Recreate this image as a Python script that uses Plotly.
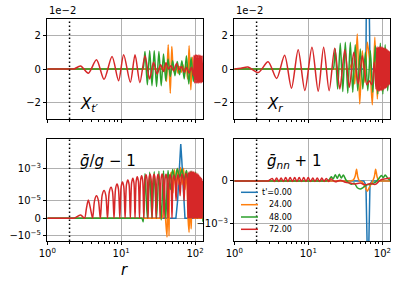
import math
import plotly.graph_objects as go

# ---------------- data ----------------
series_labels = ["t'=0.00", "24.00", "48.00", "72.00"]
series_colors = ["#1f77b4", "#ff7f0e", "#2ca02c", "#d62728"]
r_marker = 2.0

# X_t' (values in units of 1e-2)
xt_r_blue = [1.0, 128.0]
xt_v_blue = [0.0, 0.0]
xt_r_orange = [1, 35.0, 36.9, 39.3, 41.1, 43.3, 46.2, 48.4, 50.8, 53.2, 55.8, 58.9, 61.9, 65.0, 68.4, 72.1,
               75.5, 79.3, 83.1, 87.6, 91.8, 96.2, 101.6, 106, 116.5, 128]
xt_v_orange = [0, 0, 0, 0.35, -0.75, 1.45, -1.45, 1.35, 0.0, -0.2, 0.2, -0.25, 0.15, -0.2, 0.25, -0.3,
               0.3, -0.6, 1.4, -1.25, 0.7, -0.5, 0.3, -0.3, 0.2, -0.2]
xt_r_green = [1, 18.5, 19.7, 21.0, 22.6, 24.3, 26.1, 28.0, 30.1, 32.4, 34.8, 37.4, 40.1, 43.0, 46.2, 49.7,
              53.4, 57.4, 61.7, 66.3, 71.2, 76.4, 82.2, 88.3, 94.8, 102, 109, 117, 128]
xt_v_green = [0, 0, 0, 1.05, -0.95, 1.1, -1.0, 1.1, -1.05, 1.05, -1.0, 0.9, -0.7, 0.6, -0.45, 0.5,
              -0.4, 0.45, -0.35, 0.5, -0.6, 0.8, -0.9, 0.7, -0.75, 0.55, -0.6, 0.4, -0.4]
xt_r_red = [1, 2.1, 2.30, 2.82, 3.59, 4.63, 5.86, 7.52, 9.21, 10.8, 13.3, 15.4, 17.9, 21.0, 24.2, 27.4,
            30.6, 34.1, 37.5, 40.4, 43.7, 47.2, 51.1, 56.2, 60.7, 65.6, 71.0, 76.7, 82.9, 89.5, 95.3,
            97, 99, 101, 103.5, 105.5, 108, 110, 112.5, 115, 117, 119.5, 122, 124.5, 127]
xt_v_red = [0, 0, 0, 0.18, -0.25, 0.55, -0.62, 0.75, -0.7, 0.86, -0.8, 0.86, -0.82, 0.8, -0.6, 0.4,
            -0.3, 0.25, -0.15, 0.37, 0.0, 0.2, -0.1, 0.33, -0.05, 0.15, -0.2, 0.1, -0.25, 0.1, -0.4,
            0.82, -0.84, 0.86, -0.85, 0.86, -0.84, 0.85, -0.85, 0.84, -0.84, 0.82, -0.82, 0.8, -0.8]

# X_r (values in units of 1e-2)
xr_r_blue = [1, 58, 60, 62, 64, 66, 68, 70, 128]
xr_v_blue = [0, 0, 0.3, 5, 20, 5, 0.3, 0, 0]
xr_r_orange = [1, 33.5, 35.8, 39.3, 42.4, 45.8, 49.5, 53.6, 58.0, 62.7, 67.7, 73.2, 79.1, 85.5, 92.4, 100,
               107.7, 116.4, 128]
xr_v_orange = [0, 0, 0, 0.4, -0.9, 2.1, -2.1, 1.1, -0.8, 1.6, 0.3, -2.15, 1.9, -1.8, 1.2, -0.8,
               0.5, -0.3, 0.1]
xr_r_green = [1, 20.5, 21.7, 23.1, 24.9, 27.0, 29.2, 31.6, 34.1, 36.9, 39.8, 43.0, 46.5, 50.3, 54.4, 58.9,
              63.6, 68.8, 74.2, 80.3, 86.7, 93.8, 101.6, 109, 118, 128]
xr_v_green = [0, 0, 0, 1.2, -1.2, 1.55, -1.35, 1.6, -1.45, 1.6, -1.4, 1.45, -1.3, 1.2, -1.2, 1.0,
              -1.3, 1.1, -1.4, 1.4, -1.5, 1.55, -1.5, 1.45, -1.3, 1.0]
xr_r_red = [1, 1.23, 1.53, 2.11, 2.86, 3.73, 4.78, 5.92, 7.29, 8.98, 11.2, 13.6, 16.1, 19.1, 22.7,
            26.6, 31.1, 35.8, 41.1, 47.2, 53.6, 61.7, 66.7, 72.1, 77.9,
            82, 84, 85.5, 87, 89, 90.5, 92, 94, 96, 97.5, 99, 101, 103, 105, 107, 109, 111, 113,
            115, 117, 119.5, 122, 124.5, 127]
xr_v_red = [0, 0.05, 0.12, -0.21, 0.43, -0.57, 0.82, -1.15, 1.16, -1.29, 1.31, -1.33, 1.31, -1.3, 1.25,
            -1.2, 1.15, -1.1, 1.0, -0.9, 0.8, -0.95, -0.7, -0.95, 0.4,
            -1.2, 1.3, -1.3, 1.33, -1.32, 1.34, -1.32, 1.33, -1.3, 1.32, -1.28, 1.3, -1.25, 1.28,
            -1.2, 1.25, -1.15, 1.2, -1.1, 1.15, -1.0, 1.1, -0.95, 1.05]

# g_bar/g - 1
gl_r_blue = [1, 55, 58, 60, 62, 64, 66, 68, 70, 73, 128]
gl_v_blue = [0, 0, 1e-5, 3e-4, 4e-3, 3.6e-2, 4e-3, 3e-4, 1e-5, 0, 0]
gl_r_orange = [1, 34.0, 35.8, 38.1, 39.8, 41.7, 43.0, 44.4, 45.8, 48.0, 50.3, 52.7, 55.3, 58.0, 60.7, 63.6,
               66.7, 69.9, 73.2, 76.7, 80.3, 82.9, 85.5, 88.3, 90.9, 96.8, 100, 128]
gl_v_orange = [0, 0, 0, 2e-5, 0, -1.2e-5, 1e-4, -1e-5, 3e-4, 6e-4, 3e-5, 9e-4, 5e-5, 1.1e-3, 1e-4, 1.2e-3,
               1e-4, 1.1e-3, 5e-5, 8e-4, 0, -8e-6, 2e-5, -6e-6, 5e-6, 0, 0, 0]
gl_r_green = [1, 18.0, 19.1, 19.9, 21.0, 22.6, 24.3, 26.1, 28.0, 30.1, 32.4, 34.8, 37.4, 40.1, 43.0, 46.2,
              49.7, 53.4, 57.4, 61.7, 66.3, 71.2, 76.4, 82.2, 88.3, 94.8, 102, 109, 117, 128]
gl_v_green = [0, 0, 0, -2e-6, 5e-4, 0, 6e-4, 0, 6.5e-4, 0, 7e-4, -1e-6, 7.5e-4, 0, 8e-4, 5e-5,
              9e-4, 2e-4, 1e-3, 3e-4, 9e-4, 2e-4, 8e-4, 1e-4, 7e-4, 5e-5, 6e-4, 0, 2e-4, -2e-6]
gl_r_red = [1, 2.1, 2.30, 2.82, 3.19,
            3.38, 3.59, 3.84, 4.10, 4.36, 4.63, 4.92, 5.22, 5.53, 5.86, 6.19, 6.53, 6.90, 7.29, 7.64,
            8.00, 8.39, 8.79, 9.18, 9.59, 9.99, 10.4, 10.84, 11.3, 11.79, 12.3, 12.79, 13.3, 13.84,
            14.4, 14.89, 15.4, 15.94, 16.5, 17.09, 17.7, 18.29, 18.9, 19.54, 20.2, 20.94, 21.7, 22.39,
            23.1, 23.84, 24.6, 25.39, 26.2, 26.99, 27.8, 28.73, 29.7, 30.63, 31.6, 32.59, 33.6, 34.68,
            35.8, 36.93, 38.1, 39.23, 40.4, 41.68, 43.0, 44.38, 45.8, 47.23, 48.7, 50.27, 51.9, 53.57,
            55.3, 57.07, 58.9, 60.77, 62.7, 64.67, 66.7, 68.82, 71.0, 73.22, 75.5, 77.86, 80.3,
            81.5, 83, 84.5, 86, 87.5, 89, 90.5, 92, 93.5, 95, 96.5, 98, 100, 101.5, 103, 105,
            107, 109, 111, 113, 115, 117, 119, 121, 123, 125, 127.5]
gl_v_red = [0, 0, 0, 1.9e-6, 0,
            5.5e-6, 1.1e-5, 5.5e-6, 0, 1.0e-5, 2.0e-5, 1.0e-5, 0, 2.2e-5, 4.3e-5, 2.2e-5, 0, 3.5e-5, 7e-5, 3.5e-5,
            0, 5.5e-5, 1.1e-4, 5.5e-5, 0, 7.5e-5, 1.5e-4, 7.5e-5, 0, 1.0e-4, 2.0e-4, 1.0e-4, 0, 1.3e-4,
            2.6e-4, 1.3e-4, 0, 1.6e-4, 3.2e-4, 1.6e-4, 0, 1.85e-4, 3.7e-4, 1.85e-4, 0, 2.1e-4, 4.2e-4, 2.1e-4,
            0, 2.25e-4, 4.5e-4, 2.25e-4, 0, 2.3e-4, 4.6e-4, 2.3e-4, 0, 2.25e-4, 4.5e-4, 2.25e-4, 0, 2.4e-4,
            4.8e-4, 2.4e-4, 0, 2.25e-4, 4.5e-4, 2.25e-4, 0, 2.1e-4, 4.2e-4, 2.1e-4, 0, 2.0e-4, 4.0e-4, 2.0e-4,
            1e-5, 2.1e-4, 4.2e-4, 2.1e-4, 2e-5, 2.25e-4, 4.5e-4, 2.25e-4, 1e-5, 2.5e-4, 5e-4, 2.5e-4, 0,
            6e-4, 0, 6.5e-4, 0, 7e-4, 0, 7e-4, 0, 7e-4, 0, 6.5e-4, 0, 6e-4, 0, 5.5e-4, 0,
            5e-4, 0, 4.5e-4, 0, 3.5e-4, 0, 3e-4, 0, 2.5e-4, 0, 1.8e-4]

# g_bar_nn + 1
gn_r_blue = [1, 56, 60, 62, 64, 66, 68, 72, 128]
gn_v_blue = [0, 0, -1e-4, -2e-3, -5e-2, -2e-3, -1e-4, 0, 0]
gn_r_orange = [1, 35.0, 36.9, 40.4, 43.0, 44.8, 46.5, 48.7, 53.6, 58.9, 62.7, 66.7, 73.2, 77.9, 81.1, 84.8,
               89.5, 92, 128]
gn_v_orange = [0, 0, 0, 2e-5, 1.2e-4, 2.8e-4, 1e-4, 1e-5, -3e-5, -1.5e-4, -2.4e-4, -1.5e-4, -2e-5, 1e-4,
               2.8e-4, 1e-4, 0, 0, 0]
gn_r_green = [1, 16.5, 17.4, 19.1, 20.4, 21.7, 23.1, 24.6, 26.2, 27.8, 29.7, 32.1, 34.6, 38.1, 41.7, 45.8,
              50.3, 55.3, 60.7, 66.7, 73.2, 80.3, 88.3, 96.8, 103, 109, 120, 128]
gn_v_green = [0, 0, 0, 3e-5, 1e-4, 5e-5, 1.5e-4, 6e-5, 1.6e-4, 7e-5, 1.4e-4, 3e-5, -3e-5, -8e-5, -5e-5, -1.6e-4,
              -1.9e-4, -1.5e-4, -1e-4, -8e-5, -6e-5, -3e-5, 4e-5, 1.3e-4, 8e-5, 1.4e-4, 5e-5, 2e-5]
gn_r_red = [1, 2.7, 2.86, 3.24, 3.48, 3.73, 4.00, 4.29, 4.60, 4.94, 5.30, 5.68, 6.10, 6.54, 7.02, 7.53,
            8.07, 8.66, 9.29, 9.97, 10.7, 11.5, 12.3, 13.2, 14.2, 15.2, 16.3, 17.5, 18.8, 20.1,
            23.1, 27.0, 31.6, 36.9, 43.0, 50.3, 58.9, 68.8, 80.3, 93.8, 109, 128]
gn_v_red = [0, 0, 0, 6e-5, -1e-5, 7e-5, -1e-5, 7e-5, -1e-5, 8e-5, -1e-5, 8e-5, -1e-5, 8e-5, -1e-5, 8e-5,
            -1e-5, 8e-5, -1e-5, 8e-5, -1e-5, 7e-5, -1e-5, 7e-5, -1e-5, 7e-5, -1e-5, 6e-5, -1e-5, 5e-5,
            -2e-5, 2e-5, -3e-5, -5e-5, -7e-5, -5e-5, -9e-5, -6e-5, -8e-5, 2e-5, 5e-5, 7e-5]

x_ticks = [1, 10, 100]
x_ticktext = ["10<sup>0</sup>", "10<sup>1</sup>", "10<sup>2</sup>"]
x_minor = [2, 3, 4, 5, 6, 7, 8, 9, 20, 30, 40, 50, 60, 70, 80, 90]
top_ticks = [-2, 0, 2]
top_ticktext = ["−2", "0", "2"]
gl_ticks = [1e-3, 1e-5, 0, -1e-5]
gl_ticktext = ["10<sup>−3</sup>", "10<sup>−5</sup>", "0", "−10<sup>−5</sup>"]
gn_ticks = [0, -1e-3]
gn_ticktext = ["0", "−10<sup>−3</sup>"]
gl_linthresh = 1e-5
gn_linthresh = 1e-3


def symlog(vals, linthresh):
    c = 1.0 / (1.0 - 0.1)
    out = []
    for v in vals:
        a = abs(v)
        if a <= linthresh:
            out.append(v / linthresh * c)
        else:
            out.append(math.copysign(c + math.log10(a / linthresh), v))
    return out


fig = go.Figure()

panels = [
    ("x", "y", [(xt_r_blue, xt_v_blue), (xt_r_orange, xt_v_orange), (xt_r_green, xt_v_green), (xt_r_red, xt_v_red)], None),
    ("x2", "y2", [(xr_r_blue, xr_v_blue), (xr_r_orange, xr_v_orange), (xr_r_green, xr_v_green), (xr_r_red, xr_v_red)], None),
    ("x3", "y3", [(gl_r_blue, gl_v_blue), (gl_r_orange, gl_v_orange), (gl_r_green, gl_v_green), (gl_r_red, gl_v_red)], gl_linthresh),
    ("x4", "y4", [(gn_r_blue, gn_v_blue), (gn_r_orange, gn_v_orange), (gn_r_green, gn_v_green), (gn_r_red, gn_v_red)], gn_linthresh),
]

for xa, ya, series, lt in panels:
    for i, (rr, vv) in enumerate(series):
        yy = vv if lt is None else symlog(vv, lt)
        shape = "linear" if i == 0 else "spline"
        fig.add_trace(go.Scatter(x=rr, y=yy, xaxis=xa, yaxis=ya, mode="lines",
                                 name=series_labels[i],
                                 line=dict(color=series_colors[i], width=1.5, shape=shape, smoothing=0.8),
                                 showlegend=False, hoverinfo="skip"))
    fig.add_shape(type="line", xref=xa, yref=ya + " domain", x0=r_marker, x1=r_marker, y0=0, y1=1,
                  line=dict(color="black", width=1.5, dash="1.5px,2.5px"))

FONT = "DejaVu Sans"
LX = [47.3 / 399, 203 / 399]
RX = [234.3 / 399, 390.3 / 399]
TY = [1 - 119 / 285, 1 - 19 / 285]
BY = [1 - 241 / 285, 1 - 139.3 / 285]

axis_common = dict(showline=True, linecolor="black", linewidth=0.8, mirror=True,
                   ticks="outside", ticklen=3.5, tickwidth=0.8, tickcolor="black",
                   showgrid=True, gridcolor="#b0b0b0", gridwidth=0.8, zeroline=False,
                   automargin=False,
                   tickfont=dict(family=FONT, size=10, color="black"))


def xaxis(domain, anchor, labels):
    return dict(axis_common, domain=domain, anchor=anchor, type="log",
                range=[0, math.log10(128)], tickmode="array", tickvals=x_ticks,
                ticktext=x_ticktext, showticklabels=labels,
                minor=dict(ticks="outside", ticklen=2, tickwidth=0.6, tickcolor="black",
                           tickmode="array", tickvals=x_minor, showgrid=False))


fig.update_layout(
    width=399, height=285, margin=dict(l=0, r=0, t=0, b=0, autoexpand=False),
    paper_bgcolor="white", plot_bgcolor="white", showlegend=False,
    xaxis=xaxis(LX, "y", False),
    xaxis2=xaxis(RX, "y2", False),
    xaxis3=xaxis(LX, "y3", True),
    xaxis4=xaxis(RX, "y4", True),
    yaxis=dict(axis_common, domain=TY, anchor="x", range=[-3, 3], tickmode="array",
               tickvals=top_ticks, ticktext=top_ticktext),
    yaxis2=dict(axis_common, domain=TY, anchor="x2", range=[-3, 3], tickmode="array",
                tickvals=top_ticks, ticktext=top_ticktext),
    yaxis3=dict(axis_common, domain=BY, anchor="x3", range=[-1.43, 4.97], tickmode="array",
                tickvals=symlog(gl_ticks, gl_linthresh), ticktext=gl_ticktext),
    yaxis4=dict(axis_common, domain=BY, anchor="x4", range=[-1.575, 1.094], tickmode="array",
                tickvals=symlog(gn_ticks, gn_linthresh), ticktext=gn_ticktext),
)

ann = []
for x0 in (LX[0], RX[0]):
    ann.append(dict(text="1e−2", x=x0, y=TY[1] + 0.005, xref="paper", yref="paper",
                    xanchor="left", yanchor="bottom", showarrow=False,
                    font=dict(family=FONT, size=10, color="black")))
big = dict(family=FONT, size=15, color="black")
ann.append(dict(text="<i>X</i><sub><i>t′</i></sub>", x=78.4 / 399, y=1 - 104 / 285, xref="paper",
                yref="paper", xanchor="left", yanchor="middle", showarrow=False, font=big))
ann.append(dict(text="<i>X</i><sub><i>r</i></sub>", x=265.4 / 399, y=1 - 104 / 285, xref="paper",
                yref="paper", xanchor="left", yanchor="middle", showarrow=False, font=big))
ann.append(dict(text="<i>ḡ</i>/<i>g</i> − 1", x=78.4 / 399, y=1 - 161 / 285, xref="paper",
                yref="paper", xanchor="left", yanchor="middle", showarrow=False, font=big))
ann.append(dict(text="<i>ḡ</i><sub><i>nn</i></sub> + 1", x=265.4 / 399, y=1 - 161 / 285, xref="paper",
                yref="paper", xanchor="left", yanchor="middle", showarrow=False, font=big))
ann.append(dict(text="<i>r</i>", x=124.5 / 399, y=1 - 270 / 285, xref="paper", yref="paper",
                xanchor="center", yanchor="middle", showarrow=False, font=big))

# legend (drawn manually to match compact row spacing)
leg_y = [192.3, 204.7, 217.0, 229.3]
for i, lab in enumerate(series_labels):
    yp = 1 - leg_y[i] / 285
    fig.add_shape(type="line", xref="paper", yref="paper", x0=241 / 399, x1=258 / 399, y0=yp, y1=yp,
                  line=dict(color=series_colors[i], width=1.5))
    ann.append(dict(text=lab, x=294 / 399, y=yp, xref="paper", yref="paper", xanchor="right",
                    yanchor="middle", showarrow=False, font=dict(family=FONT, size=8, color="black")))

fig.update_layout(annotations=ann)
fig.write_html("out.html", config={"displayModeBar": False},
               post_script="document.body.style.margin='0px';")
